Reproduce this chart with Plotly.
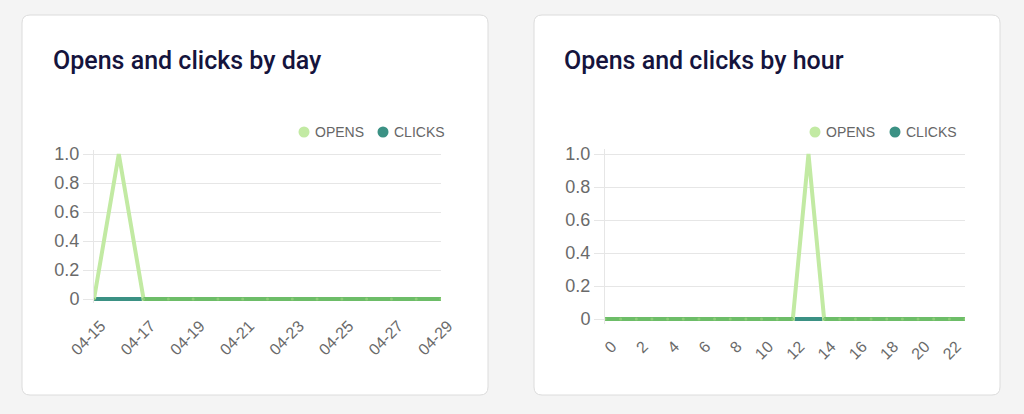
import plotly.graph_objects as go

# ---------------- data ----------------
days = ["04-15", "04-16", "04-17", "04-18", "04-19", "04-20", "04-21", "04-22",
        "04-23", "04-24", "04-25", "04-26", "04-27", "04-28", "04-29"]
day_opens = [0, 1, 0, 0, 0, 0, 0, 0, 0, 0, 0, 0, 0, 0, 0]
day_clicks = [0, 0, 0, 0, 0, 0, 0, 0, 0, 0, 0, 0, 0, 0, 0]
day_ticks = ["04-15", "04-17", "04-19", "04-21", "04-23", "04-25", "04-27", "04-29"]

hours = list(range(24))
hour_opens = [0, 0, 0, 0, 0, 0, 0, 0, 0, 0, 0, 0, 0, 1, 0, 0, 0, 0, 0, 0, 0, 0, 0, 0]
hour_clicks = [0] * 24
hour_ticks = [0, 2, 4, 6, 8, 10, 12, 14, 16, 18, 20, 22]

y_ticks = [0, 0.2, 0.4, 0.6, 0.8, 1.0]
y_tick_text = ["0", "0.2", "0.4", "0.6", "0.8", "1.0"]

series_names = ["OPENS", "CLICKS"]
titles = ["Opens and clicks by day", "Opens and clicks by hour"]

# ---------------- style ----------------
W, H = 1024, 414
OPENS_C = "#c2eaa3"
CLICKS_C = "#3b9184"
BOTH_C = "#6dbd68"
GRID_C = "#e6e6e6"
LABEL_FONT = "Liberation Sans, Arial, sans-serif"


def px(x):
    return x / W


def py(y):
    return 1 - y / H


def card_path(x0, y0, x1, y1, r):
    X0, X1 = px(x0), px(x1)
    Y0, Y1 = py(y0), py(y1)
    rx, ry = r / W, r / H
    return (f"M{X0 + rx},{Y0} L{X1 - rx},{Y0} Q{X1},{Y0} {X1},{Y0 - ry} "
            f"L{X1},{Y1 + ry} Q{X1},{Y1} {X1 - rx},{Y1} "
            f"L{X0 + rx},{Y1} Q{X0},{Y1} {X0},{Y1 + ry} "
            f"L{X0},{Y0 - ry} Q{X0},{Y0} {X0 + rx},{Y0} Z")


def overlap(a, b):
    return [va if va == vb else None for va, vb in zip(a, b)]


fig = go.Figure()

panels = [
    dict(x=days, opens=day_opens, clicks=day_clicks, ticks=day_ticks, xa="x", ya="y",
         xdom=(94, 441), y0=299, y1=154, xr=[0, len(days) - 1],
         title_x=52, legend_x=(304, 383)),
    dict(x=hours, opens=hour_opens, clicks=hour_clicks, ticks=hour_ticks, xa="x2", ya="y2",
         xdom=(605, 965), y0=319, y1=154, xr=[0, len(hours) - 1],
         title_x=563, legend_x=(815, 895)),
]

shapes = [
    dict(type="path", path=card_path(22, 15, 488, 395, 8), xref="paper", yref="paper",
         fillcolor="white", line=dict(color="#dcdcdc", width=1), layer="below"),
    dict(type="path", path=card_path(534, 15, 1000, 395, 8), xref="paper", yref="paper",
         fillcolor="white", line=dict(color="#dcdcdc", width=1), layer="below"),
]
annotations = []

for p in panels:
    fig.add_trace(go.Scatter(x=p["x"], y=p["clicks"], mode="lines", name=series_names[1],
                             line=dict(color=CLICKS_C, width=4),
                             xaxis=p["xa"], yaxis=p["ya"], showlegend=False, hoverinfo="skip"))
    fig.add_trace(go.Scatter(x=p["x"], y=p["opens"], mode="lines", name=series_names[0],
                             line=dict(color=OPENS_C, width=4),
                             xaxis=p["xa"], yaxis=p["ya"], showlegend=False, hoverinfo="skip"))
    fig.add_trace(go.Scatter(x=p["x"], y=overlap(p["opens"], p["clicks"]), mode="lines+markers",
                             line=dict(color=BOTH_C, width=4), marker=dict(color="#8ccc78", size=3),
                             connectgaps=False, xaxis=p["xa"], yaxis=p["ya"], showlegend=False,
                             hoverinfo="skip"))
    # title
    annotations.append(dict(text=titles[panels.index(p)], x=px(p["title_x"] - 1), y=py(61),
                            xref="paper", yref="paper", xanchor="left", yanchor="middle",
                            showarrow=False,
                            font=dict(family="Roboto, sans-serif", size=25, color="#15143d",
                                      weight=500)))
    # legend: dot + label
    for name, col, cx in zip(series_names, [OPENS_C, CLICKS_C], p["legend_x"]):
        r = 5.5
        shapes.append(dict(type="circle", xref="paper", yref="paper",
                           x0=px(cx - r), x1=px(cx + r), y0=py(132 + r), y1=py(132 - r),
                           fillcolor=col, line=dict(width=0)))
        annotations.append(dict(text=name, x=px(cx + 9), y=py(132), xref="paper", yref="paper",
                                xanchor="left", yanchor="middle", showarrow=False,
                                font=dict(family=LABEL_FONT, size=14, color="#666666")))

pad = 0.03
layout_axes = {}
for i, p in enumerate(panels):
    sfx = "" if i == 0 else str(i + 1)
    ppu = (p["y0"] - p["y1"])
    top = p["y1"] - pad * ppu
    bot = p["y0"] + pad * ppu
    layout_axes["xaxis" + sfx] = dict(
        domain=[px(p["xdom"][0]), px(p["xdom"][1])], anchor="y" + sfx,
        range=p["xr"], showgrid=False, zeroline=False, showline=False,
        tickmode="array", tickvals=p["ticks"], ticktext=[str(t) for t in p["ticks"]],
        tickangle=-45, tickfont=dict(family=LABEL_FONT, size=16, color="#6a6a6a"),
        ticks="outside", ticklen=6, tickcolor="rgba(0,0,0,0)", ticklabelshift=7,
        fixedrange=True, automargin=False,
        type="category" if i == 0 else "linear",
    )
    layout_axes["yaxis" + sfx] = dict(
        domain=[py(bot), py(top)], anchor="x" + sfx,
        range=[-pad, 1 + pad], tickmode="array", tickvals=y_ticks, ticktext=y_tick_text,
        showgrid=True, gridcolor=GRID_C, gridwidth=1, zeroline=False,
        showline=True, linecolor=GRID_C, linewidth=1,
        ticks="outside", ticklen=10, tickcolor=GRID_C,
        tickfont=dict(family=LABEL_FONT, size=18, color="#6a6a6a"),
        fixedrange=True, automargin=False,
    )

fig.update_layout(
    width=W, height=H, margin=dict(l=0, r=0, t=0, b=0, autoexpand=False),
    paper_bgcolor="#f4f4f4", plot_bgcolor="rgba(0,0,0,0)",
    showlegend=False,
    shapes=shapes,
    annotations=annotations,
    **layout_axes,
)

fig.write_html("out.html", config={"displayModeBar": False})
